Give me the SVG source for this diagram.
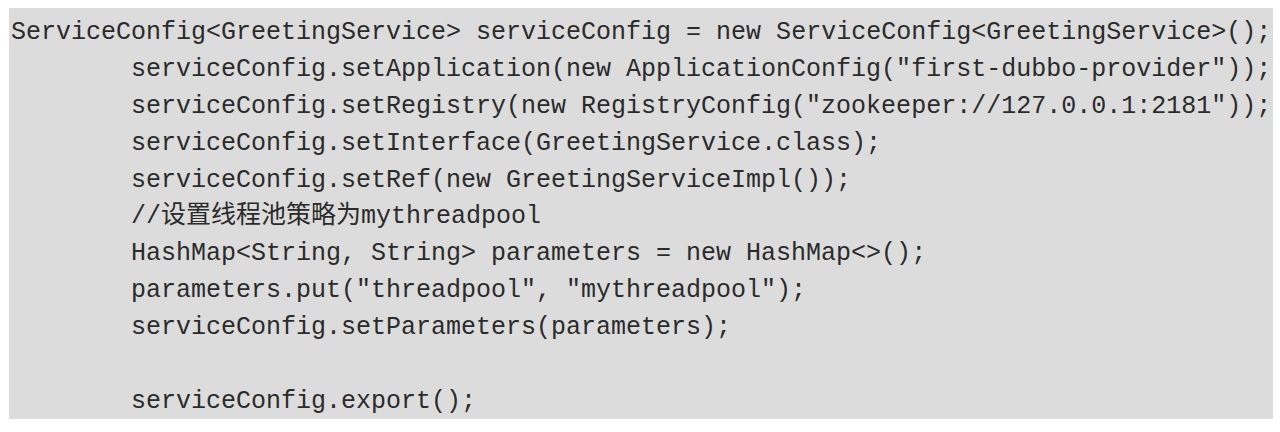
<svg xmlns="http://www.w3.org/2000/svg" width="1280" height="432" viewBox="0 0 1280 432">
<style>
.code{font-family:"Liberation Mono","Courier New","Noto Sans CJK SC",monospace;font-size:25px;fill:#2b2b2b;white-space:pre}
.cjk{font-family:"Noto Sans CJK SC",sans-serif;font-size:25px}
</style>
<rect x="0" y="0" width="1280" height="432" fill="#ffffff"/>
<rect id="code-block" x="9" y="8" width="1264" height="411" fill="#dcdcdc"/>
<g id="code">
<text class="code" x="11" y="39">ServiceConfig&lt;GreetingService&gt; serviceConfig = new ServiceConfig&lt;GreetingService&gt;();</text>
<text class="code" x="131" y="76">serviceConfig.setApplication(new ApplicationConfig("first-dubbo-provider"));</text>
<text class="code" x="131" y="113">serviceConfig.setRegistry(new RegistryConfig("zookeeper://127.0.0.1:2181"));</text>
<text class="code" x="131" y="150">serviceConfig.setInterface(GreetingService.class);</text>
<text class="code" x="131" y="187">serviceConfig.setRef(new GreetingServiceImpl());</text>
<text class="code" x="131" y="223">//<tspan class="cjk">设置线程池策略为</tspan>mythreadpool</text>
<text class="code" x="131" y="260">HashMap&lt;String, String&gt; parameters = new HashMap&lt;&gt;();</text>
<text class="code" x="131" y="297">parameters.put("threadpool", "mythreadpool");</text>
<text class="code" x="131" y="334">serviceConfig.setParameters(parameters);</text>
<text class="code" x="131" y="408">serviceConfig.export();</text>
</g>
</svg>
